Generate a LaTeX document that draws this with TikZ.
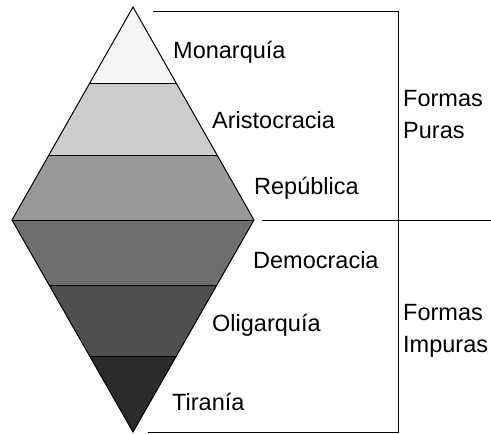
\documentclass[tikz,border=0pt]{standalone}
\usepackage{fontspec}
\setmainfont{Liberation Sans}
\usetikzlibrary{calc,positioning}

\begin{document}
\begin{tikzpicture}[x=1pt,y=-1pt,
		forma/.style={anchor=west,inner sep=0pt,font=\fontsize{23.5}{32}\selectfont},
		grupo/.style={anchor=west,inner sep=0pt,align=left,font=\fontsize{23.5}{32}\selectfont}]
		\useasboundingbox (0,0) rectangle (491,434);
		\def\ta{0.36} % cut of the upper bands
		\def\tb{0.695}
		\def\tc{0.31} % cut of the lower bands
		\def\td{0.645}
		\coordinate (top) at (133,7);
		\coordinate (left) at (12,220);
		\coordinate (right) at (254,220);
		\coordinate (bottom) at (133,432);
		
		\coordinate (a1) at ($(top)!\ta!(left)$);
		\coordinate (b1) at ($(top)!\ta!(right)$);
		\coordinate (a2) at ($(top)!\tb!(left)$);
		\coordinate (b2) at ($(top)!\tb!(right)$);
		\coordinate (c1) at ($(left)!\tc!(bottom)$);
		\coordinate (d1) at ($(right)!\tc!(bottom)$);
		\coordinate (c2) at ($(left)!\td!(bottom)$);
		\coordinate (d2) at ($(right)!\td!(bottom)$);
		
		% bands
		\fill[black!4] (top) -- (a1) -- (b1) -- cycle;
		\fill[black!20] (a1) -- (a2) -- (b2) -- (b1) -- cycle;
		\fill[black!40] (a2) -- (left) -- (right) -- (b2) -- cycle;
		\fill[black!57] (left) -- (c1) -- (d1) -- (right) -- cycle;
		\fill[black!69] (c1) -- (c2) -- (d2) -- (d1) -- cycle;
		\fill[black!83] (c2) -- (bottom) -- (d2) -- cycle;
		
		\draw[line width=1pt] (top) -- (left) -- (bottom) -- (right) -- cycle;
		\draw[line width=1pt] (a1) -- (b1) (a2) -- (b2) (left) -- (right) (c1) -- (d1) (c2) -- (d2);
		
		% bracket
		\coordinate (k1) at (153,11);
		\coordinate (k2) at (398,11);
		\coordinate (k3) at (398,432);
		\coordinate (k4) at (148,432);
		\coordinate (m1) at (262,220);
		\coordinate (m2) at (491,220);
		\draw[line width=1pt] (k1) -- (k2) -- (k3) -- (k4);
		\draw[line width=1pt] (m1) -- (m2);
		
		\node[forma] (mon) at (173,52) {Monarquía};
		\node[forma] (ari) at (212,120) {Aristocracia};
		\node[forma] (rep) at (254,188) {República};
		\node[forma] (dem) at (253,260) {Democracia};
		\node[forma] (oli) at (212,325) {Oligarquía};
		\node[forma] (tir) at (172,402) {Tiranía};
		
		\node[grupo] (puras) at (403,115) {Formas\\Puras};
		\node[grupo] (impuras) at (403,331) {Formas\\Impuras};
	\end{tikzpicture}
\end{document}
